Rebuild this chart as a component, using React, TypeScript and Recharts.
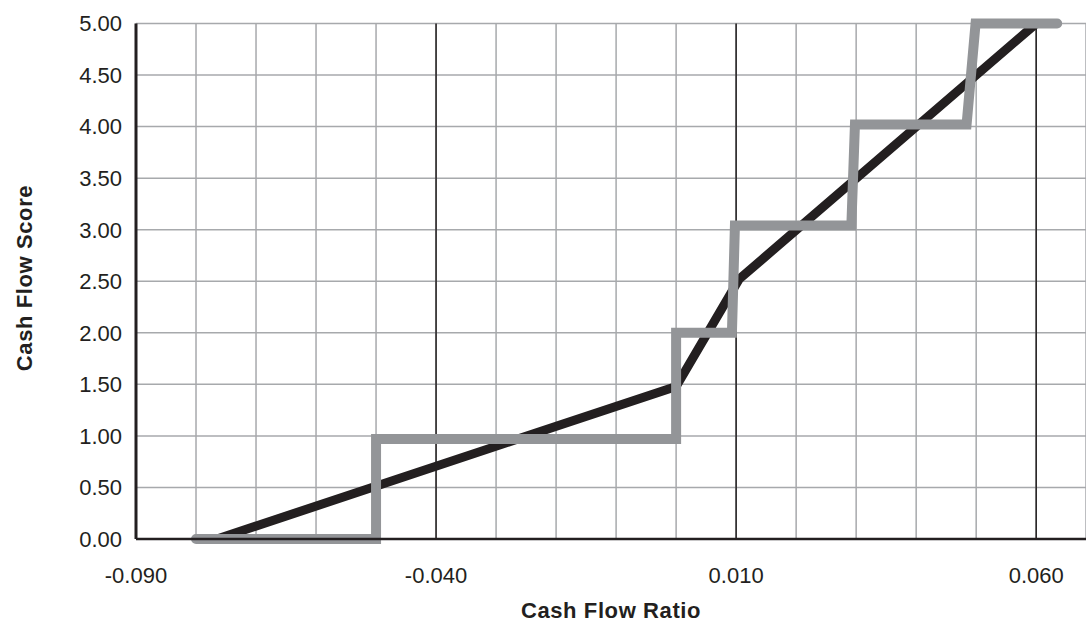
import React from "react";
import {
  LineChart,
  Line,
  XAxis,
  YAxis,
  CartesianGrid,
  ReferenceLine,
} from "recharts";

// linear score curve (black)
const ratioCurve = [-0.0765, 0.0, 0.0105, 0.06];
const scoreCurve = [0, 1.48, 2.52, 5.0];

// stepped score (gray)
const ratioSteps = [
  -0.08, -0.05, -0.05, 0.0, 0.0, 0.0093, 0.0098, 0.0292, 0.0298, 0.0484,
  0.0499, 0.0635,
];
const scoreSteps = [0, 0, 0.97, 0.97, 2.0, 2.0, 3.04, 3.04, 4.02, 4.02, 5.0, 5.0];

const xTicks = [
  -0.09, -0.08, -0.07, -0.06, -0.05, -0.04, -0.03, -0.02, -0.01, 0, 0.01, 0.02,
  0.03, 0.04, 0.05, 0.06,
];
const xLabelTicks = [-0.09, -0.04, 0.01, 0.06];
const xMajorLines = [-0.04, 0.01, 0.06];
const yTicks = [0, 0.5, 1, 1.5, 2, 2.5, 3, 3.5, 4, 4.5, 5];

const curveData = ratioCurve.map((x, i) => ({ x, y: scoreCurve[i] }));
const stepData = ratioSteps.map((x, i) => ({ x, y: scoreSteps[i] }));

const font = "'Liberation Sans', Arial, Helvetica, sans-serif";
const ink = "#231f20";

const fmtX = (v: number) =>
  xLabelTicks.some((t) => Math.abs(t - v) < 1e-9) ? v.toFixed(3) : "";

const XTitle = () => (
  <text
    x={611}
    y={618}
    textAnchor="middle"
    fontFamily={font}
    fontWeight="bold"
    fontSize={22}
    letterSpacing={0.6}
    fill={ink}
  >
    Cash Flow Ratio
  </text>
);

const YTitle = () => (
  <text
    x={24}
    y={278}
    transform="rotate(-90 24 278)"
    textAnchor="middle"
    dominantBaseline="central"
    fontFamily={font}
    fontWeight="bold"
    fontSize={22}
    letterSpacing={0.6}
    fill={ink}
  >
    Cash Flow Score
  </text>
);

export default function App() {
  return (
    <div style={{ position: "absolute", left: 0, top: 0 }}>
      <LineChart
        width={1086}
        height={626}
        margin={{ top: 23.5, right: 0, bottom: 0, left: 0 }}
      >
        <CartesianGrid stroke="#a7a9ac" strokeWidth={1.5} />
        <XAxis
          type="number"
          dataKey="x"
          domain={[-0.09, 0.0683]}
          allowDataOverflow
          ticks={xTicks}
          interval={0}
          tickFormatter={fmtX}
          tickLine={false}
          tickSize={0}
          tickMargin={28}
          height={87}
          axisLine={{ stroke: ink, strokeWidth: 2.5 }}
          tick={{ fill: ink, fontSize: 22, fontFamily: font }}
          label={XTitle}
        />
        <YAxis
          type="number"
          dataKey="y"
          domain={[0, 5]}
          ticks={yTicks}
          interval={0}
          tickFormatter={(v: number) => v.toFixed(2)}
          tickLine={false}
          tickSize={0}
          tickMargin={14}
          width={136}
          axisLine={{ stroke: ink, strokeWidth: 3 }}
          tick={{ fill: ink, fontSize: 22, fontFamily: font }}
          label={YTitle}
        />
        {xMajorLines.map((v) => (
          <ReferenceLine key={v} x={v} stroke={ink} strokeWidth={1.5} />
        ))}
        <Line
          data={curveData}
          dataKey="y"
          type="linear"
          stroke={ink}
          strokeWidth={9}
          dot={false}
          activeDot={false}
          isAnimationActive={false}
        />
        <Line
          data={stepData}
          dataKey="y"
          type="linear"
          stroke="#939598"
          strokeWidth={10}
          strokeLinecap="round"
          strokeLinejoin="miter"
          dot={false}
          activeDot={false}
          isAnimationActive={false}
        />
      </LineChart>
    </div>
  );
}
